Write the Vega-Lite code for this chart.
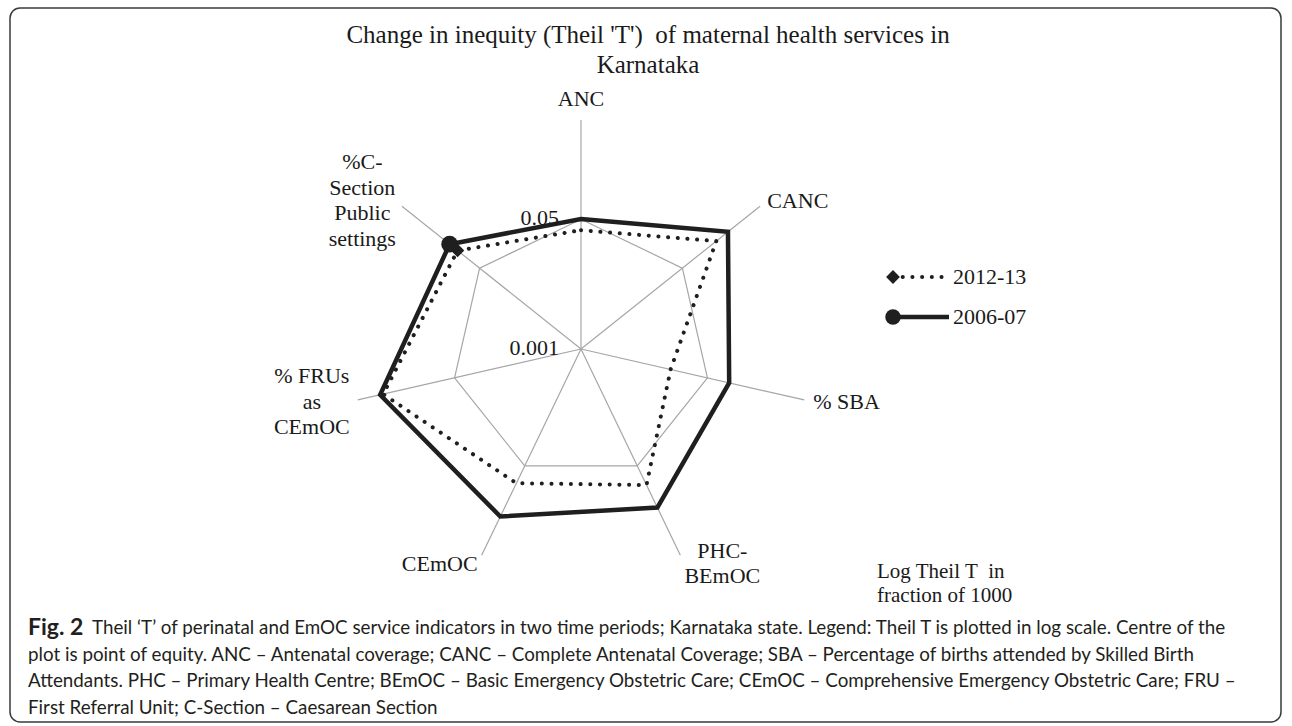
{
  "$schema": "https://vega.github.io/schema/vega-lite/v6.json",
  "width": 1271,
  "height": 714,
  "autosize": {"type": "none"},
  "padding": {"left": 10, "top": 8, "right": 11, "bottom": 4},
  "background": "white",
  "config": {
    "view": {"stroke": "#3a3a3a", "strokeWidth": 1.5, "cornerRadius": 10},
    "text": {"font": "Liberation Serif", "fontSize": 22, "color": "#1a1a1a"}
  },
  "datasets": {
    "axes": [
      {"axis": "ANC", "i": 0, "t2006": 0.0505, "t2012": 0.036},
      {"axis": "CANC", "i": 1, "t2006": 0.29, "t2012": 0.185},
      {"axis": "% SBA", "i": 2, "t2006": 0.098, "t2012": 0.016},
      {"axis": "PHC-\nBEmOC", "i": 3, "t2006": 0.202, "t2012": 0.095},
      {"axis": "CEmOC", "i": 4, "t2006": 0.273, "t2012": 0.0895},
      {"axis": "% FRUs\nas\nCEmOC", "i": 5, "t2006": 0.5, "t2012": 0.456},
      {"axis": "%C-\nSection\nPublic\nsettings", "i": 6, "t2006": 0.159, "t2012": 0.117}
    ],
    "ticks": [
      {"label": "0.05", "v": 0.05},
      {"label": "0.001", "v": 0.001}
    ]
  },
  "layer": [
    {
      "data": {"name": "axes"},
      "transform": [
        {"calculate": "datum.i*2*PI/7", "as": "a"},
        {"calculate": "sin(datum.a)", "as": "ex"},
        {"calculate": "cos(datum.a)", "as": "ey"},
        {"calculate": "0", "as": "o"}
      ],
      "mark": {"type": "rule", "color": "#a6a6a6", "strokeWidth": 1.2},
      "encoding": {
        "x": {"field": "o", "type": "quantitative", "scale": {"domain": [-2.49345, 3.05677], "nice": false, "zero": false}, "axis": null},
        "y": {"field": "o", "type": "quantitative", "scale": {"domain": [-1.62882, 1.48908], "nice": false, "zero": false}, "axis": null},
        "x2": {"field": "ex"},
        "y2": {"field": "ey"}
      }
    },
    {
      "data": {"name": "axes"},
      "transform": [
        {"calculate": "datum.i*2*PI/7", "as": "a"},
        {"calculate": "log(50)/(3*LN10)", "as": "r"},
        {"calculate": "datum.r*sin(datum.a)", "as": "gx"},
        {"calculate": "datum.r*cos(datum.a)", "as": "gy"}
      ],
      "mark": {"type": "line", "interpolate": "linear-closed", "color": "#a6a6a6", "strokeWidth": 1.2},
      "encoding": {
        "x": {"field": "gx", "type": "quantitative", "scale": {"domain": [-2.49345, 3.05677], "nice": false, "zero": false}, "axis": null},
        "y": {"field": "gy", "type": "quantitative", "scale": {"domain": [-1.62882, 1.48908], "nice": false, "zero": false}, "axis": null},
        "order": {"field": "i", "type": "quantitative"}
      }
    },
    {
      "data": {"name": "axes"},
      "transform": [
        {"calculate": "datum.i*2*PI/7", "as": "a"},
        {"calculate": "log(datum.t2012*1000)/(3*LN10)", "as": "r"},
        {"calculate": "datum.r*sin(datum.a)", "as": "sx"},
        {"calculate": "datum.r*cos(datum.a)", "as": "sy"}
      ],
      "mark": {"type": "line", "interpolate": "linear-closed", "color": "#1f1f1f", "strokeWidth": 4, "strokeDash": [0.1, 9.6], "strokeCap": "round"},
      "encoding": {
        "x": {"field": "sx", "type": "quantitative", "scale": {"domain": [-2.49345, 3.05677], "nice": false, "zero": false}, "axis": null},
        "y": {"field": "sy", "type": "quantitative", "scale": {"domain": [-1.62882, 1.48908], "nice": false, "zero": false}, "axis": null},
        "order": {"field": "i", "type": "quantitative"}
      }
    },
    {
      "data": {"name": "axes"},
      "transform": [
        {"calculate": "datum.i*2*PI/7", "as": "a"},
        {"calculate": "log(datum.t2012*1000)/(3*LN10)", "as": "r"},
        {"calculate": "datum.r*sin(datum.a)", "as": "sx"},
        {"calculate": "datum.r*cos(datum.a)", "as": "sy"},
        {"filter": "datum.i == 6"}
      ],
      "mark": {"type": "point", "shape": "diamond", "filled": true, "opacity": 1, "color": "#1f1f1f", "size": 180},
      "encoding": {
        "x": {"field": "sx", "type": "quantitative", "scale": {"domain": [-2.49345, 3.05677], "nice": false, "zero": false}, "axis": null},
        "y": {"field": "sy", "type": "quantitative", "scale": {"domain": [-1.62882, 1.48908], "nice": false, "zero": false}, "axis": null}
      }
    },
    {
      "data": {"name": "axes"},
      "transform": [
        {"calculate": "datum.i*2*PI/7", "as": "a"},
        {"calculate": "log(datum.t2006*1000)/(3*LN10)", "as": "r"},
        {"calculate": "datum.r*sin(datum.a)", "as": "sx"},
        {"calculate": "datum.r*cos(datum.a)", "as": "sy"}
      ],
      "mark": {"type": "line", "interpolate": "linear-closed", "color": "#1f1f1f", "strokeWidth": 4.5, "strokeJoin": "miter"},
      "encoding": {
        "x": {"field": "sx", "type": "quantitative", "scale": {"domain": [-2.49345, 3.05677], "nice": false, "zero": false}, "axis": null},
        "y": {"field": "sy", "type": "quantitative", "scale": {"domain": [-1.62882, 1.48908], "nice": false, "zero": false}, "axis": null},
        "order": {"field": "i", "type": "quantitative"}
      }
    },
    {
      "data": {"name": "axes"},
      "transform": [
        {"calculate": "datum.i*2*PI/7", "as": "a"},
        {"calculate": "log(datum.t2006*1000)/(3*LN10)", "as": "r"},
        {"calculate": "datum.r*sin(datum.a)", "as": "sx"},
        {"calculate": "datum.r*cos(datum.a)", "as": "sy"},
        {"filter": "datum.i == 6"}
      ],
      "mark": {"type": "point", "shape": "circle", "filled": true, "opacity": 1, "color": "#1f1f1f", "size": 280},
      "encoding": {
        "x": {"field": "sx", "type": "quantitative", "scale": {"domain": [-2.49345, 3.05677], "nice": false, "zero": false}, "axis": null},
        "y": {"field": "sy", "type": "quantitative", "scale": {"domain": [-1.62882, 1.48908], "nice": false, "zero": false}, "axis": null}
      }
    },
    {
      "data": {"name": "axes"},
      "transform": [
        {"calculate": "datum.i*2*PI/7", "as": "a"},
        {"calculate": "1.04*sin(datum.a)", "as": "lx"},
        {"calculate": "1.04*cos(datum.a) + (length(split(datum.axis, '\\n')) - 1) * 0.5 * 25.5 / 229", "as": "ly"},
        {"filter": "datum.i == 1 || datum.i == 2"}
      ],
      "mark": {"type": "text", "align": "left", "baseline": "middle", "lineBreak": "\n", "lineHeight": 25.5},
      "encoding": {
        "x": {"field": "lx", "type": "quantitative", "scale": {"domain": [-2.49345, 3.05677], "nice": false, "zero": false}, "axis": null},
        "y": {"field": "ly", "type": "quantitative", "scale": {"domain": [-1.62882, 1.48908], "nice": false, "zero": false}, "axis": null},
        "text": {"field": "axis"}
      }
    },
    {
      "data": {"name": "axes"},
      "transform": [
        {"calculate": "datum.i*2*PI/7", "as": "a"},
        {"calculate": "1.04*sin(datum.a)", "as": "lx"},
        {"calculate": "1.04*cos(datum.a) + (length(split(datum.axis, '\\n')) - 1) * 0.5 * 25.5 / 229", "as": "ly"},
        {"filter": "datum.i == 3"}
      ],
      "mark": {"type": "text", "align": "center", "baseline": "middle", "dx": 38, "lineBreak": "\n", "lineHeight": 25.5},
      "encoding": {
        "x": {"field": "lx", "type": "quantitative", "scale": {"domain": [-2.49345, 3.05677], "nice": false, "zero": false}, "axis": null},
        "y": {"field": "ly", "type": "quantitative", "scale": {"domain": [-1.62882, 1.48908], "nice": false, "zero": false}, "axis": null},
        "text": {"field": "axis"}
      }
    },
    {
      "data": {"name": "axes"},
      "transform": [
        {"calculate": "datum.i*2*PI/7", "as": "a"},
        {"calculate": "1.04*sin(datum.a)", "as": "lx"},
        {"calculate": "1.04*cos(datum.a) + (length(split(datum.axis, '\\n')) - 1) * 0.5 * 25.5 / 229", "as": "ly"},
        {"filter": "datum.i == 4"}
      ],
      "mark": {"type": "text", "align": "right", "baseline": "middle", "lineBreak": "\n", "lineHeight": 25.5},
      "encoding": {
        "x": {"field": "lx", "type": "quantitative", "scale": {"domain": [-2.49345, 3.05677], "nice": false, "zero": false}, "axis": null},
        "y": {"field": "ly", "type": "quantitative", "scale": {"domain": [-1.62882, 1.48908], "nice": false, "zero": false}, "axis": null},
        "text": {"field": "axis"}
      }
    },
    {
      "data": {"name": "axes"},
      "transform": [
        {"calculate": "datum.i*2*PI/7", "as": "a"},
        {"calculate": "1.04*sin(datum.a)", "as": "lx"},
        {"calculate": "1.04*cos(datum.a) + (length(split(datum.axis, '\\n')) - 1) * 0.5 * 25.5 / 229", "as": "ly"},
        {"filter": "datum.i == 5"}
      ],
      "mark": {"type": "text", "align": "center", "baseline": "middle", "dx": -37, "lineBreak": "\n", "lineHeight": 25.5},
      "encoding": {
        "x": {"field": "lx", "type": "quantitative", "scale": {"domain": [-2.49345, 3.05677], "nice": false, "zero": false}, "axis": null},
        "y": {"field": "ly", "type": "quantitative", "scale": {"domain": [-1.62882, 1.48908], "nice": false, "zero": false}, "axis": null},
        "text": {"field": "axis"}
      }
    },
    {
      "data": {"name": "axes"},
      "transform": [
        {"calculate": "datum.i*2*PI/7", "as": "a"},
        {"calculate": "1.04*sin(datum.a)", "as": "lx"},
        {"calculate": "1.04*cos(datum.a) + (length(split(datum.axis, '\\n')) - 1) * 0.5 * 25.5 / 229", "as": "ly"},
        {"filter": "datum.i == 6"}
      ],
      "mark": {"type": "text", "align": "center", "baseline": "middle", "dx": -32.5, "lineBreak": "\n", "lineHeight": 25.5},
      "encoding": {
        "x": {"field": "lx", "type": "quantitative", "scale": {"domain": [-2.49345, 3.05677], "nice": false, "zero": false}, "axis": null},
        "y": {"field": "ly", "type": "quantitative", "scale": {"domain": [-1.62882, 1.48908], "nice": false, "zero": false}, "axis": null},
        "text": {"field": "axis"}
      }
    },
    {
      "data": {"name": "axes"},
      "transform": [
        {"calculate": "datum.i*2*PI/7", "as": "a"},
        {"calculate": "1.04*sin(datum.a)", "as": "lx"},
        {"calculate": "1.04*cos(datum.a)", "as": "ly"},
        {"filter": "datum.i == 0"}
      ],
      "mark": {"type": "text", "align": "center", "baseline": "bottom", "lineBreak": "\n", "lineHeight": 25.5},
      "encoding": {
        "x": {"field": "lx", "type": "quantitative", "scale": {"domain": [-2.49345, 3.05677], "nice": false, "zero": false}, "axis": null},
        "y": {"field": "ly", "type": "quantitative", "scale": {"domain": [-1.62882, 1.48908], "nice": false, "zero": false}, "axis": null},
        "text": {"field": "axis"}
      }
    },
    {
      "data": {"name": "ticks"},
      "transform": [
        {"calculate": "log(datum.v*1000)/(3*LN10)", "as": "r"},
        {"calculate": "0", "as": "o"}
      ],
      "mark": {"type": "text", "align": "right", "baseline": "middle", "dx": -22, "dy": -1},
      "encoding": {
        "x": {"field": "o", "type": "quantitative", "scale": {"domain": [-2.49345, 3.05677], "nice": false, "zero": false}, "axis": null},
        "y": {"field": "r", "type": "quantitative", "scale": {"domain": [-1.62882, 1.48908], "nice": false, "zero": false}, "axis": null},
        "text": {"field": "label"}
      }
    },
    {
      "data": {"values": [{}]},
      "mark": {"type": "text", "align": "center", "baseline": "middle", "fontSize": 25, "lineHeight": 30},
      "encoding": {
        "x": {"datum": 0.2926, "type": "quantitative", "scale": {"domain": [-2.49345, 3.05677], "nice": false, "zero": false}, "axis": null},
        "y": {"datum": 1.3712, "type": "quantitative", "scale": {"domain": [-1.62882, 1.48908], "nice": false, "zero": false}, "axis": null},
        "text": {"value": ["Change in inequity (Theil 'T')\u00a0 of maternal health services in", "Karnataka"]}
      }
    },
    {
      "data": {"values": [{}]},
      "mark": {"type": "rule", "color": "#1f1f1f", "strokeWidth": 4, "strokeDash": [0.1, 9.6], "strokeCap": "round"},
      "encoding": {
        "x": {"datum": 1.3624, "type": "quantitative", "scale": {"domain": [-2.49345, 3.05677], "nice": false, "zero": false}, "axis": null},
        "x2": {"datum": 1.5895},
        "y": {"datum": 0.3144, "type": "quantitative", "scale": {"domain": [-1.62882, 1.48908], "nice": false, "zero": false}, "axis": null}
      }
    },
    {
      "data": {"values": [{}]},
      "mark": {"type": "point", "shape": "diamond", "filled": true, "opacity": 1, "color": "#1f1f1f", "size": 190},
      "encoding": {
        "x": {"datum": 1.3624, "type": "quantitative", "scale": {"domain": [-2.49345, 3.05677], "nice": false, "zero": false}, "axis": null},
        "y": {"datum": 0.3144, "type": "quantitative", "scale": {"domain": [-1.62882, 1.48908], "nice": false, "zero": false}, "axis": null}
      }
    },
    {
      "data": {"values": [{}]},
      "mark": {"type": "rule", "color": "#1f1f1f", "strokeWidth": 4.5},
      "encoding": {
        "x": {"datum": 1.3624, "type": "quantitative", "scale": {"domain": [-2.49345, 3.05677], "nice": false, "zero": false}, "axis": null},
        "x2": {"datum": 1.607},
        "y": {"datum": 0.1397, "type": "quantitative", "scale": {"domain": [-1.62882, 1.48908], "nice": false, "zero": false}, "axis": null}
      }
    },
    {
      "data": {"values": [{}]},
      "mark": {"type": "point", "shape": "circle", "filled": true, "opacity": 1, "color": "#1f1f1f", "size": 240},
      "encoding": {
        "x": {"datum": 1.3624, "type": "quantitative", "scale": {"domain": [-2.49345, 3.05677], "nice": false, "zero": false}, "axis": null},
        "y": {"datum": 0.1397, "type": "quantitative", "scale": {"domain": [-1.62882, 1.48908], "nice": false, "zero": false}, "axis": null}
      }
    },
    {
      "data": {"values": [{}]},
      "mark": {"type": "text", "align": "left", "baseline": "middle"},
      "encoding": {
        "x": {"datum": 1.6245, "type": "quantitative", "scale": {"domain": [-2.49345, 3.05677], "nice": false, "zero": false}, "axis": null},
        "y": {"datum": 0.3144, "type": "quantitative", "scale": {"domain": [-1.62882, 1.48908], "nice": false, "zero": false}, "axis": null},
        "text": {"value": "2012-13"}
      }
    },
    {
      "data": {"values": [{}]},
      "mark": {"type": "text", "align": "left", "baseline": "middle"},
      "encoding": {
        "x": {"datum": 1.6245, "type": "quantitative", "scale": {"domain": [-2.49345, 3.05677], "nice": false, "zero": false}, "axis": null},
        "y": {"datum": 0.1397, "type": "quantitative", "scale": {"domain": [-1.62882, 1.48908], "nice": false, "zero": false}, "axis": null},
        "text": {"value": "2006-07"}
      }
    },
    {
      "data": {"values": [{}]},
      "mark": {"type": "text", "align": "left", "baseline": "middle", "fontSize": 21, "lineHeight": 24},
      "encoding": {
        "x": {"datum": 1.2926, "type": "quantitative", "scale": {"domain": [-2.49345, 3.05677], "nice": false, "zero": false}, "axis": null},
        "y": {"datum": -0.9738, "type": "quantitative", "scale": {"domain": [-1.62882, 1.48908], "nice": false, "zero": false}, "axis": null},
        "text": {"value": ["Log Theil T\u00a0 in", "fraction of 1000"]}
      }
    },
    {
      "data": {"values": [{}]},
      "mark": {"type": "text", "align": "left", "baseline": "middle", "font": "Lato", "fontWeight": "bold", "fontSize": 23, "color": "#231f20"},
      "encoding": {
        "x": {"datum": -2.4148, "type": "quantitative", "scale": {"domain": [-2.49345, 3.05677], "nice": false, "zero": false}, "axis": null},
        "y": {"datum": -1.2183, "type": "quantitative", "scale": {"domain": [-1.62882, 1.48908], "nice": false, "zero": false}, "axis": null},
        "text": {"value": "Fig. 2"}
      }
    },
    {
      "data": {"values": [{}]},
      "mark": {"type": "text", "align": "left", "baseline": "middle", "font": "Lato", "fontSize": 18.8, "color": "#231f20"},
      "encoding": {
        "x": {"datum": -2.1354, "type": "quantitative", "scale": {"domain": [-2.49345, 3.05677], "nice": false, "zero": false}, "axis": null},
        "y": {"datum": -1.2183, "type": "quantitative", "scale": {"domain": [-1.62882, 1.48908], "nice": false, "zero": false}, "axis": null},
        "text": {"value": "Theil \u2018T\u2019 of perinatal and EmOC service indicators in two time periods; Karnataka state. Legend: Theil T is plotted in log scale. Centre of the"}
      }
    },
    {
      "data": {"values": [{}]},
      "mark": {"type": "text", "align": "left", "baseline": "middle", "font": "Lato", "fontSize": 18.8, "lineHeight": 26.3, "color": "#231f20"},
      "encoding": {
        "x": {"datum": -2.4148, "type": "quantitative", "scale": {"domain": [-2.49345, 3.05677], "nice": false, "zero": false}, "axis": null},
        "y": {"datum": -1.3362, "type": "quantitative", "scale": {"domain": [-1.62882, 1.48908], "nice": false, "zero": false}, "axis": null},
        "text": {"value": [
          "plot is point of equity. ANC \u2013 Antenatal coverage; CANC \u2013 Complete Antenatal Coverage; SBA \u2013 Percentage of births attended by Skilled Birth",
          "Attendants. PHC \u2013 Primary Health Centre; BEmOC \u2013 Basic Emergency Obstetric Care; CEmOC \u2013 Comprehensive Emergency Obstetric Care; FRU \u2013",
          "First Referral Unit; C-Section \u2013 Caesarean Section"
        ]}
      }
    }
  ]
}
